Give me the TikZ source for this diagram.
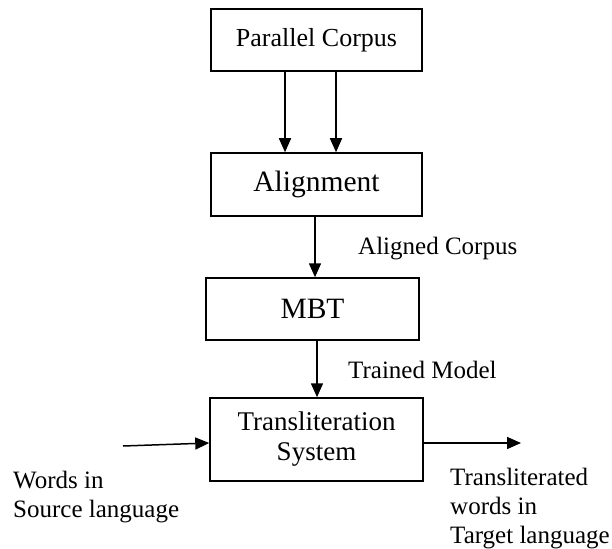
\documentclass[tikz,border=0pt]{standalone}
\usepackage{fontspec}
\setmainfont{Liberation Serif}
\usetikzlibrary{arrows.meta}
\begin{document}
\begin{tikzpicture}[x=1pt,y=-1pt,
  box/.style={draw,line width=1.5pt,inner sep=0pt,minimum width=#1},
  arr/.style={line width=1.5pt,-{Triangle[length=14pt,width=12pt]}},
  lbl/.style={inner sep=0pt,font=\fontsize{25}{29}\selectfont}]
\useasboundingbox (0,0) rectangle (612,548);
\node[box=211pt,minimum height=62pt,font=\fontsize{26}{30}\selectfont] (pc) at (316.5,40) {Parallel Corpus};
\node[box=211pt,minimum height=63pt,font=\fontsize{29.5}{33}\selectfont] (al) at (316.5,184.5) {Alignment};
\node[box=213pt,minimum height=62pt,font=\fontsize{29.5}{33}\selectfont] (mbt) at (312.5,309) {MBT};
\node[box=213pt,minimum height=83pt,align=center,font=\fontsize{27}{30}\selectfont] (ts) at (316.5,439.5) {Transliteration\\System};
\draw[arr] (285,0 |- pc.south) -- (285,0 |- al.north);
\draw[arr] (336,0 |- pc.south) -- (336,0 |- al.north);
\draw[arr] (315,0 |- al.south) -- (315,0 |- mbt.north);
\draw[arr] (317,0 |- mbt.south) -- (317,0 |- ts.north);
\coordinate (in) at (123,446);
\coordinate (out) at (521,443);
\draw[arr] (in) -- (ts.west |- 0,443);
\draw[arr] (ts.east |- 0,443) -- (out);
\node[lbl,anchor=base west] (lac) at (358,254) {Aligned Corpus};
\node[lbl,anchor=base west] (ltm) at (348,378) {Trained Model};
\node[lbl,anchor=north west,align=left] (lw) at (13,471) {Words in\\Source language};
\node[lbl,anchor=north west,align=left] (lt) at (450,468) {Transliterated\\words in\\Target language};
\end{tikzpicture}
\end{document}
